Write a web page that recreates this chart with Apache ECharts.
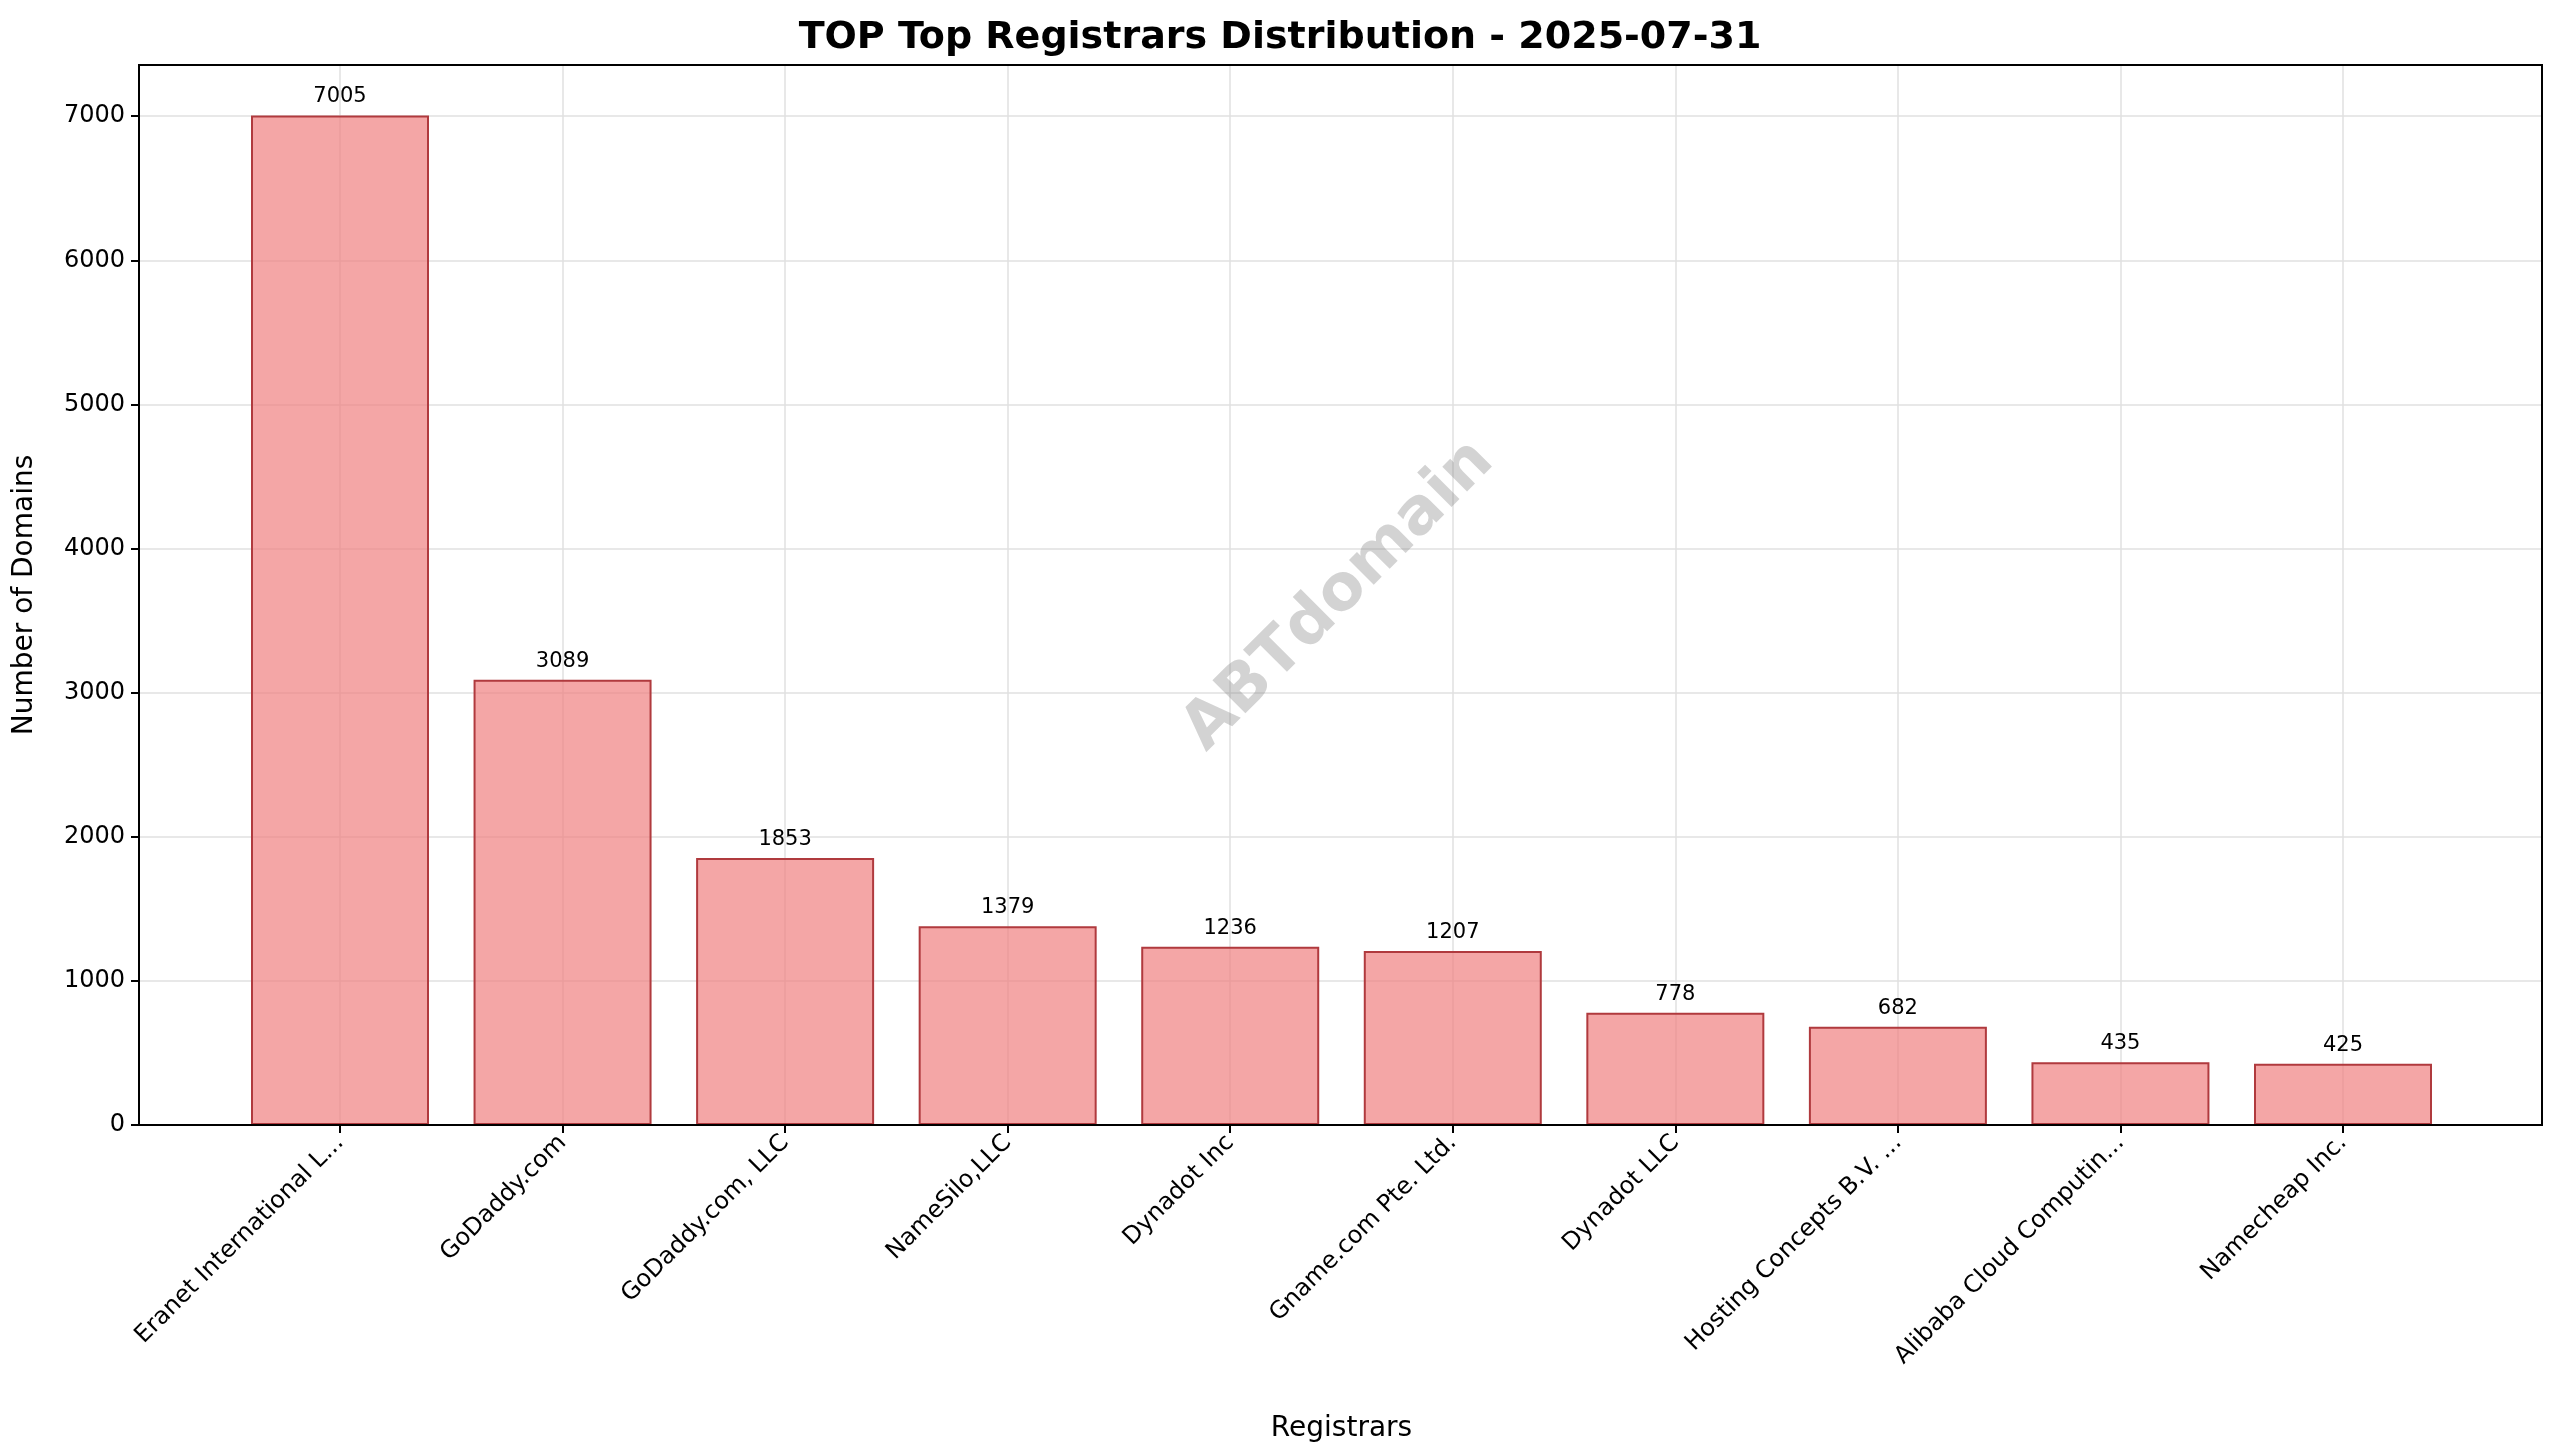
<!DOCTYPE html>
<html>
<head>
<meta charset="utf-8">
<script src="https://cdn.jsdelivr.net/npm/echarts@6/dist/echarts.min.js"></script>
<style>html,body{margin:0;padding:0;background:#fff}#main{width:2560px;height:1455px}</style>
</head>
<body>
<div id="main"></div>
<script>
var registrars = ['Eranet International L...', 'GoDaddy.com', 'GoDaddy.com, LLC', 'NameSilo,LLC', 'Dynadot Inc',
    'Gname.com Pte. Ltd.', 'Dynadot LLC', 'Hosting Concepts B.V. ...', 'Alibaba Cloud Computin...', 'Namecheap Inc.'];
var domainCounts = [7005, 3089, 1853, 1379, 1236, 1207, 778, 682, 435, 425];
var yTicks = [0, 1000, 2000, 3000, 4000, 5000, 6000, 7000];

var chart = echarts.init(document.getElementById('main'));
var font = 'DejaVu Sans';
var yMax = 7355;
var option = {
    backgroundColor: '#fff',
    textStyle: {fontFamily: font},
    title: {
        text: 'TOP Top Registrars Distribution - 2025-07-31',
        left: 'center', top: 14,
        textStyle: {fontSize: 38, fontWeight: 'bold', color: '#000', fontFamily: font}
    },
    graphic: [{
        type: 'text', x: 1339, y: 596, rotation: Math.PI / 4, z: 100,
        style: {text: 'ABTdomain', fontSize: 64, fontWeight: 'bold', fill: 'rgba(128,128,128,0.35)',
            fontFamily: font, align: 'center', verticalAlign: 'middle'}
    }, {
        type: 'rect', z: 50, silent: true,
        shape: {x: 139, y: 65, width: 2403, height: 1060},
        style: {fill: 'none', stroke: '#000', lineWidth: 2}
    }],
    grid: [
        {left: 139, right: 18, top: 65, bottom: 330},
        {left: 340, right: 217, top: 65, bottom: 330}
    ],
    xAxis: [
        {gridIndex: 0, type: 'value', min: 0, max: 1, show: false},
        {
            gridIndex: 1, type: 'category', data: registrars, boundaryGap: false,
            name: 'Registrars', nameLocation: 'middle', nameGap: 290,
            nameTextStyle: {fontSize: 28, color: '#000'},
            axisLine: {show: false},
            axisTick: {show: true, length: 8, lineStyle: {color: '#000', width: 2}},
            axisLabel: {rotate: 45, fontSize: 24, color: '#000', margin: 14, interval: 0},
            splitLine: {show: true, lineStyle: {color: '#e0e0e0', width: 1.5}}
        }
    ],
    yAxis: [
        {
            gridIndex: 0, type: 'value', min: 0, max: yMax, interval: 1000,
            name: 'Number of Domains', nameLocation: 'middle', nameGap: 100,
            nameTextStyle: {fontSize: 28, color: '#000'},
            axisLine: {show: false},
            axisTick: {show: true, length: 8, lineStyle: {color: '#000', width: 2},
                customValues: yTicks},
            axisLabel: {fontSize: 24, color: '#000', margin: 14, customValues: yTicks,
                formatter: function (v) { return String(v); }},
            splitLine: {show: true, lineStyle: {color: '#e0e0e0', width: 1.5}}
        },
        {gridIndex: 1, type: 'value', min: 0, max: yMax, show: false}
    ],
    series: [{
        type: 'bar', xAxisIndex: 1, yAxisIndex: 1,
        data: domainCounts, barWidth: 178,
        itemStyle: {color: 'rgba(240,128,128,0.7)', borderColor: '#b03a3e', borderWidth: 2},
        label: {show: true, position: 'top', fontSize: 21, color: '#000', distance: 8},
        z: 3
    }]
};
chart.setOption(option);
</script>
</body>
</html>
